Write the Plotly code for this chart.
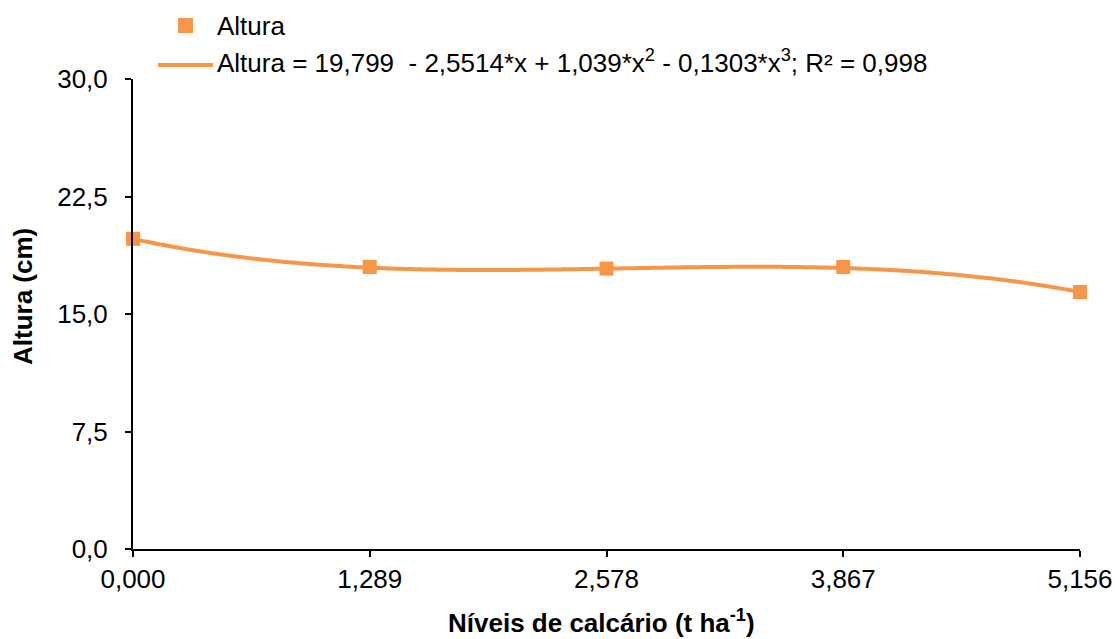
import numpy as np
import plotly.graph_objects as go

# Doses de calcário (t ha-1) e altura média das plantas (cm)
niveis = [0.000, 1.289, 2.578, 3.867, 5.156]
altura = [19.8, 18.0, 17.9, 18.0, 16.4]

# Coeficientes da regressão cúbica (b0, b1, b2, b3)
coef = [19.799, -2.5514, 1.039, -0.1303]
r2_label = "0,998"

y_ticks = [0, 7.5, 15, 22.5, 30]

ORANGE = "#F79646"
FONT = "Liberation Sans, Arial, sans-serif"
FS = 26

W, H = 1118, 639
ML, MR, MT, MB = 133, 38, 79, 90
PW, PH = W - ML - MR, H - MT - MB


def px(x):
    return (x - ML) / PW


def py(y):
    return (H - MB - y) / PH


# Curva ajustada a partir da equação exibida
x_fit = np.linspace(niveis[0], niveis[-1], 200)
y_fit = coef[0] + coef[1] * x_fit + coef[2] * x_fit ** 2 + coef[3] * x_fit ** 3

fig = go.Figure()
fig.add_trace(go.Scatter(
    x=x_fit, y=y_fit, mode="lines",
    line=dict(color=ORANGE, width=4, shape="spline"),
    hoverinfo="skip", showlegend=False, cliponaxis=False,
))
fig.add_trace(go.Scatter(
    x=niveis, y=altura, mode="markers",
    marker=dict(symbol="square", size=14, color=ORANGE),
    showlegend=False, cliponaxis=False,
))

eq = ("Altura = 19,799&nbsp; - 2,5514*x + 1,039*x<sup>2</sup> - "
      "0,1303*x<sup>3</sup>; R² = " + r2_label)

fig.update_layout(
    width=W, height=H,
    margin=dict(l=ML, r=MR, t=MT, b=MB, autoexpand=False),
    paper_bgcolor="white", plot_bgcolor="white",
    separators=", ",
    font=dict(family=FONT, size=FS, color="black"),
    xaxis=dict(
        range=[niveis[0], niveis[-1]],
        tickvals=niveis, tickformat=".3f",
        showgrid=False, zeroline=False, automargin=False,
        showline=True, linecolor="black", linewidth=2,
        ticks="outside", ticklen=6, tickwidth=1.5, tickcolor="black",
        tickfont=dict(size=FS),
    ),
    yaxis=dict(
        range=[0, 30],
        tickvals=y_ticks, tickformat=".1f",
        showgrid=False, zeroline=False, automargin=False,
        showline=True, linecolor="black", linewidth=2,
        ticks="outside", ticklen=6, tickwidth=1.5, tickcolor="black",
        tickfont=dict(size=FS), ticklabelstandoff=12,
    ),
    shapes=[
        dict(type="rect", xref="paper", yref="paper",
             x0=px(178), x1=px(193), y0=py(33), y1=py(18),
             fillcolor=ORANGE, line=dict(width=0)),
        dict(type="line", xref="paper", yref="paper",
             x0=px(158), x1=px(213), y0=py(65), y1=py(65),
             line=dict(color=ORANGE, width=4)),
    ],
    annotations=[
        dict(text="Altura", xref="paper", yref="paper",
             x=px(215), y=py(26), xanchor="left", yanchor="middle",
             showarrow=False, font=dict(size=FS)),
        dict(text=eq, xref="paper", yref="paper",
             x=px(215), y=py(62), xanchor="left", yanchor="middle",
             showarrow=False, font=dict(size=FS)),
        dict(text="<b>Níveis de calcário (t ha<sup>-1</sup>)</b>",
             xref="paper", yref="paper",
             x=px(601), y=py(621), xanchor="center", yanchor="middle",
             showarrow=False, font=dict(size=FS)),
        dict(text="<b>Altura (cm)</b>", xref="paper", yref="paper",
             x=px(23), y=py(297), xanchor="center", yanchor="middle",
             textangle=-90, showarrow=False, font=dict(size=FS)),
    ],
)

fig.write_html("out.html")
